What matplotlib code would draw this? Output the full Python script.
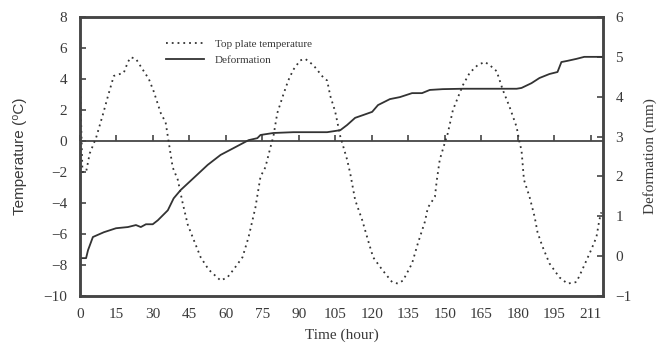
import matplotlib
matplotlib.use("Agg")
import matplotlib.pyplot as plt

# ---------------- data ----------------
temp_hours = [0, 1.0, 2.5, 4.0, 6.6, 9.4, 11.5, 13.9, 18.0, 19.7, 20.9, 23.0, 25.0, 28.3, 30.3,
              33.2, 35.2, 36.1, 38.1, 40.2, 42.2, 44.3, 46.3, 49.6, 52.9, 57.8, 60.6, 63.1,
              66.8, 69.3, 72.1, 74.2, 76.2, 78.3, 79.5, 81.1, 83.6, 85.6, 87.7, 90.5, 92.6,
              95.9, 100.0, 101.6, 102.9, 104.9, 107.0, 109.8, 111.1, 113.1, 116.0, 118.4,
              120.5, 124.2, 128.3, 130.7, 132.8, 136.5, 138.9, 141.8, 143.0, 145.9, 146.7,
              147.9, 150.0, 151.2, 153.3, 156.1, 157.4, 160.2, 163.5, 166.4, 168.4, 171.3,
              173.8, 176.6, 179.5, 180.7, 181.5, 182.5, 184.8, 186.9, 188.1, 190.1, 193.0,
              197.1, 200.4, 204.1, 206.5, 210.2, 212.3, 213.5, 214.3]
temp_values = [4.0, -2.0, -2.0, -0.8, 0.2, 1.7, 2.9, 4.2, 4.4, 5.1, 5.4, 5.3, 4.8, 4.0, 3.2,
               1.8, 1.2, 0.3, -1.7, -2.5, -4.0, -5.4, -6.2, -7.5, -8.3, -9.0, -8.8, -8.3,
               -7.5, -6.2, -4.3, -2.3, -1.7, -0.4, 0.3, 1.8, 3.0, 3.9, 4.6, 5.2, 5.3,
               4.9, 4.1, 3.9, 2.9, 1.9, 0.3, -1.2, -2.1, -3.8, -5.1, -6.4,
               -7.5, -8.3, -9.1, -9.2, -9.0, -7.9, -6.6, -5.2, -4.3, -3.6, -2.5,
               -1.2, -0.1, 0.5, 2.0, 3.1, 3.6, 4.4, 4.9, 5.1, 4.9, 4.5,
               3.3, 2.2, 0.9, -0.1, -0.6, -2.5, -3.6, -4.9, -5.9, -6.8, -7.9,
               -8.8, -9.2, -9.1, -8.3, -7.0, -6.2, -5.1, -4.6]

def_hours = [0.4, 2.5, 3.3, 5.3, 9.8, 14.8, 19.7, 23.0, 25.0, 27.1, 29.9, 32.0, 36.1, 38.5,
             41.4, 46.7, 52.5, 57.8, 63.1, 69.3, 72.9, 74.2, 79.5, 87.7, 101.6, 107.0,
             109.8, 113.1, 116.4, 120.1, 122.5, 127.4, 131.5, 136.5, 140.6, 143.8, 149.1,
             157.4, 179.5, 181.5, 185.6, 188.9, 193.0, 196.3, 197.9, 200.4, 204.1, 207.3, 214.7]
def_values = [-0.05, -0.05, 0.15, 0.48, 0.6, 0.7, 0.73, 0.78, 0.73, 0.8, 0.8, 0.9, 1.15, 1.45,
              1.66, 1.96, 2.29, 2.54, 2.71, 2.91, 2.96, 3.04, 3.09, 3.11, 3.11, 3.16,
              3.29, 3.47, 3.54, 3.62, 3.79, 3.94, 3.99, 4.09, 4.09, 4.17, 4.19,
              4.2, 4.2, 4.22, 4.34, 4.47, 4.57, 4.62, 4.87, 4.9, 4.95, 5.0, 5.0]

x_ticks = [0, 15, 30, 45, 60, 75, 90, 105, 120, 135, 150, 165, 180, 195, 210]
x_tick_labels = ["0", "15", "30", "45", "60", "75", "90", "105", "120", "135", "150",
                 "165", "180", "195", "211"]
temp_ticks = [8, 6, 4, 2, 0, -2, -4, -6, -8, -10]
def_ticks = [6, 5, 4, 3, 2, 1, 0, -1]

# ---------------- style ----------------
SERIF = ["Liberation Serif", "DejaVu Serif"]
SANS = ["Liberation Sans", "DejaVu Sans"]
plt.rcParams["font.family"] = SERIF
plt.rcParams["axes.unicode_minus"] = True
line_col = "#333333"
spine_col = "#454545"
text_col = "#3a3a3a"

fig = plt.figure(figsize=(6.61, 3.53), dpi=100)
ax = fig.add_axes([80 / 661, 1 - 296 / 353, (603 - 80) / 661, (296 - 17) / 353])
ax2 = ax.twinx()

lt, = ax.plot(temp_hours, temp_values, color=line_col, lw=1.3,
              linestyle=(0, (1, 2.2)), label="Top plate temperature")
ld, = ax2.plot(def_hours, def_values, color=line_col, lw=1.3, label="Deformation")

ax.set_xlim(0, 215)
ax.set_ylim(-10, 8)
ax2.set_ylim(-1, 6)

ax.set_xticks(x_ticks)
ax.set_xticklabels(x_tick_labels)
ax.set_yticks(temp_ticks)
ax2.set_yticks(def_ticks)

for a in (ax, ax2):
    for s in a.spines.values():
        s.set_color(spine_col)
        s.set_linewidth(1.8)

ax.tick_params(axis="x", length=0, pad=9, labelsize=11, labelcolor=text_col)
ax.tick_params(axis="y", direction="in", length=4, width=1.2, color=spine_col,
               pad=9, labelsize=11, labelcolor=text_col)
ax2.tick_params(axis="y", direction="in", length=4, width=1.2, color=spine_col,
                pad=9, labelsize=11, labelcolor=text_col)

# zero line with upward tick marks
ax.axhline(0, color=spine_col, lw=1.3, zorder=1.5)
sec = ax.secondary_xaxis(10 / 18)
sec.set_xticks(x_ticks)
sec.set_xticklabels([])
for s in sec.spines.values():
    s.set_visible(False)
sec.tick_params(axis="x", which="both", direction="out", length=4, width=1.2,
                color=spine_col, labelbottom=False, labeltop=False)

ax.set_xlabel("Time (hour)", fontsize=11, color=text_col, labelpad=5)
ax.set_ylabel("Temperature (\u2070C)", fontsize=11, color=text_col,
              family=SANS, labelpad=12)
ax2.set_ylabel("Deformation (mm)", fontsize=11, color=text_col, labelpad=8)

ax.legend([lt, ld], ["Top plate temperature", "Deformation"],
          loc="upper left", bbox_to_anchor=(0.145, 0.955), frameon=False,
          handlelength=3.4, handletextpad=1.0, labelspacing=0.5,
          prop={"family": SERIF, "size": 8})
for t in ax.get_legend().get_texts():
    t.set_color(text_col)

fig.savefig("out.png", dpi=100)
